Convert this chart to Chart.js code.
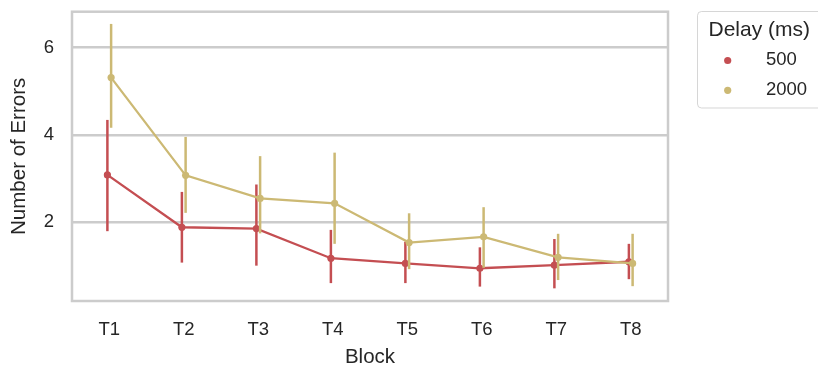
<!DOCTYPE html>
<html>
<head>
<meta charset="utf-8">
<script src="https://cdn.jsdelivr.net/npm/chart.js@4/dist/chart.umd.min.js"></script>
<style>
  html, body { margin: 0; padding: 0; background: #fff; }
  #wrap { width: 818px; height: 368px; position: relative; }
</style>
</head>
<body>
<div id="wrap"><canvas id="c" width="818" height="368"></canvas></div>
<script>
// Block labels and y ticks
const blocks = ['T1', 'T2', 'T3', 'T4', 'T5', 'T6', 'T7', 'T8'];
const yTicks = [2, 4, 6];

// Mean number of errors with 95% CI, per delay condition
const delay500Mean = [3.08, 1.88, 1.85, 1.17, 1.05, 0.94, 1.01, 1.09];
const delay500Low  = [1.79, 1.07, 1.00, 0.60, 0.60, 0.52, 0.48, 0.69];
const delay500High = [4.34, 2.69, 2.86, 1.82, 1.55, 1.42, 1.61, 1.50];

const delay2000Mean = [5.31, 3.07, 2.54, 2.43, 1.53, 1.66, 1.19, 1.05];
const delay2000Low  = [4.16, 2.21, 1.74, 1.50, 0.92, 0.95, 0.67, 0.53];
const delay2000High = [6.54, 3.95, 3.51, 3.59, 2.20, 2.34, 1.73, 1.73];

const seriesNames = ['500', '2000'];
const legendTitle = 'Delay (ms)';

const RED = '#c44e52';
const GOLD = '#ccb974';
const TEXT = '#262626';
const GRID = '#cccccc';
const FONT = '"Liberation Sans", Arial, Helvetica, sans-serif';
const DODGE = 0.025;

Chart.defaults.font.family = FONT;
Chart.defaults.color = TEXT;

function points(means, shift) {
  return means.map((v, i) => ({ x: i + shift, y: v }));
}

const intervals = [
  { low: delay500Low, high: delay500High },
  { low: delay2000Low, high: delay2000High }
];

// Vertical CI bars drawn just under each dataset's line and markers
const errorBars = {
  id: 'errorBars',
  beforeDatasetDraw(chart, args) {
    const ci = intervals[args.index];
    const ds = chart.data.datasets[args.index];
    const { ctx, scales: { x, y } } = chart;
    ctx.save();
    ctx.strokeStyle = ds.borderColor;
    ctx.lineWidth = 2.5;
    ds.data.forEach((pt, i) => {
      const px = x.getPixelForValue(pt.x);
      ctx.beginPath();
      ctx.moveTo(px, y.getPixelForValue(ci.low[i]));
      ctx.lineTo(px, y.getPixelForValue(ci.high[i]));
      ctx.stroke();
    });
    ctx.restore();
  }
};

// Light grey frame around the plotting area
const frame = {
  id: 'frame',
  afterDatasetsDraw(chart) {
    const { ctx, chartArea: a } = chart;
    ctx.save();
    ctx.strokeStyle = GRID;
    ctx.lineWidth = 2.5;
    ctx.strokeRect(a.left, a.top, a.right - a.left, a.bottom - a.top);
    ctx.restore();
  }
};

// Legend box placed outside the axes, top right
const sideLegend = {
  id: 'sideLegend',
  afterDraw(chart) {
    const ctx = chart.ctx;
    const colors = [RED, GOLD];
    ctx.save();
    ctx.beginPath();
    ctx.roundRect(697.5, 11.5, 140, 96.5, 4);
    ctx.fillStyle = 'rgba(255,255,255,0.8)';
    ctx.fill();
    ctx.strokeStyle = 'rgba(204,204,204,0.8)';
    ctx.lineWidth = 1;
    ctx.stroke();

    ctx.fillStyle = TEXT;
    ctx.textAlign = 'left';
    ctx.textBaseline = 'alphabetic';
    ctx.font = '21px ' + FONT;
    ctx.fillText(legendTitle, 708.5, 35.7);

    ctx.font = '18.5px ' + FONT;
    const rows = [60.5, 90.3];
    seriesNames.forEach((name, i) => {
      ctx.beginPath();
      ctx.arc(727.7, rows[i], 3.6, 0, Math.PI * 2);
      ctx.fillStyle = colors[i];
      ctx.fill();
      ctx.fillStyle = TEXT;
      ctx.textBaseline = 'middle';
      ctx.fillText(name, 766, rows[i] - 0.5);
    });
    ctx.restore();
  }
};

function noEdgePadding(scale) {
  scale.paddingTop = 0;
  scale.paddingBottom = 0;
  scale.paddingLeft = 0;
  scale.paddingRight = 0;
}

new Chart(document.getElementById('c'), {
  type: 'line',
  data: {
    datasets: [
      {
        label: seriesNames[0],
        data: points(delay500Mean, -DODGE),
        borderColor: RED,
        backgroundColor: RED,
        pointBackgroundColor: RED,
        pointBorderWidth: 0,
        pointRadius: 3.6,
        borderWidth: 2.3,
        tension: 0,
        order: 2
      },
      {
        label: seriesNames[1],
        data: points(delay2000Mean, DODGE),
        borderColor: GOLD,
        backgroundColor: GOLD,
        pointBackgroundColor: GOLD,
        pointBorderWidth: 0,
        pointRadius: 3.6,
        borderWidth: 2.3,
        tension: 0,
        order: 1
      }
    ]
  },
  options: {
    responsive: false,
    animation: false,
    events: [],
    layout: { padding: { left: 0, top: 11.7, right: 150, bottom: 0 } },
    plugins: { legend: { display: false }, tooltip: { enabled: false } },
    scales: {
      x: {
        type: 'linear',
        min: -0.5,
        max: 7.5,
        afterBuildTicks(scale) {
          scale.ticks = blocks.map((_, i) => ({ value: i }));
        },
        afterFit(scale) { scale.height = 67; noEdgePadding(scale); },
        ticks: {
          callback: (v) => blocks[v],
          font: { size: 18.5 },
          color: TEXT,
          padding: 18,
          maxRotation: 0,
          autoSkip: false
        },
        grid: { display: false, drawTicks: false },
        border: { display: false },
        title: {
          display: true,
          text: 'Block',
          font: { size: 20.5, lineHeight: 1 },
          color: TEXT,
          padding: { top: 0, bottom: 0 }
        }
      },
      y: {
        min: 0.19,
        max: 6.82,
        afterBuildTicks(scale) {
          scale.ticks = yTicks.map(v => ({ value: v }));
        },
        afterFit(scale) { scale.width = 72; noEdgePadding(scale); },
        ticks: {
          font: { size: 18.5 },
          color: TEXT,
          padding: 18
        },
        grid: { color: GRID, lineWidth: 2.5, drawTicks: false },
        border: { display: false },
        title: {
          display: true,
          text: 'Number of Errors',
          font: { size: 20.5, lineHeight: 1 },
          color: TEXT,
          padding: { top: 9, bottom: 0 }
        }
      }
    }
  },
  plugins: [errorBars, frame, sideLegend]
});
</script>
</body>
</html>
